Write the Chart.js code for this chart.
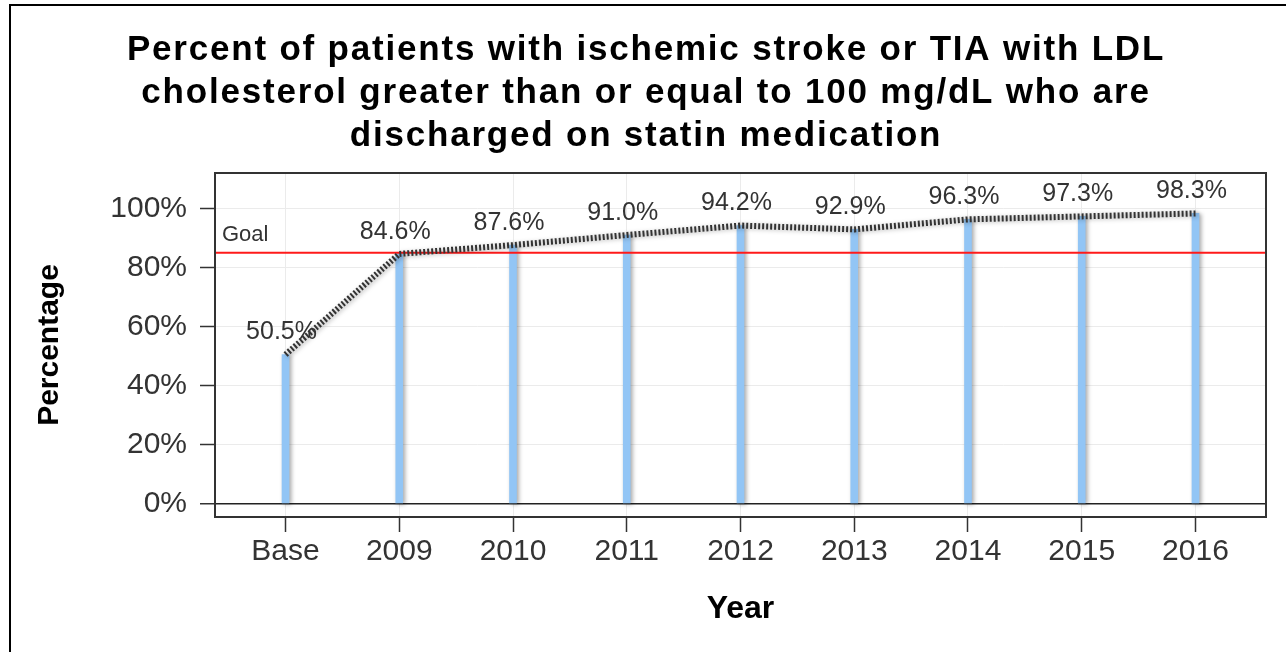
<!DOCTYPE html>
<html>
<head>
<meta charset="utf-8">
<script src="https://cdn.jsdelivr.net/npm/chart.js@4"></script>
<style>
  html, body { margin: 0; padding: 0; background: #fff; }
  #wrap { width: 1286px; height: 652px; }
</style>
</head>
<body>
<div id="wrap"><canvas id="chart" width="1286" height="652"></canvas></div>
<script>
const FONT = '"Liberation Sans", Arial, sans-serif';

const years = ["Base", "2009", "2010", "2011", "2012", "2013", "2014", "2015", "2016"];
const percents = [50.5, 84.6, 87.6, 91.0, 94.2, 92.9, 96.3, 97.3, 98.3];
const goal = 85;
const yTicks = [0, 20, 40, 60, 80, 100];
const titleLines = [
  "Percent of patients with ischemic stroke or TIA with LDL",
  "cholesterol greater than or equal to 100 mg/dL who are",
  "discharged on statin medication",
];

const X_MIN = -0.62, X_MAX = 8.62;

const points = percents.map((v, i) => ({ x: i, y: v }));

// outer frame, title, value labels, goal label, plot box
const decorPlugin = {
  id: "decor",
  beforeDraw(chart) {
    const ctx = chart.ctx;
    ctx.save();
    ctx.strokeStyle = "#000";
    ctx.lineWidth = 2;
    ctx.beginPath();
    ctx.moveTo(10, 652);
    ctx.lineTo(10, 5);
    ctx.lineTo(1286, 5);
    ctx.stroke();

    // title: drawn by hand so it can get the wider letter spacing of the original
    ctx.fillStyle = "#000";
    ctx.font = "bold 35px " + FONT;
    ctx.textAlign = "center";
    ctx.textBaseline = "alphabetic";
    if ("letterSpacing" in ctx) ctx.letterSpacing = "1.8px";
    titleLines.forEach((line, i) => ctx.fillText(line, 646, 60 + i * 43));
    ctx.restore();
  },
  afterDatasetsDraw(chart) {
    const { ctx, chartArea: a, scales: { x, y } } = chart;
    ctx.save();
    ctx.fillStyle = "#333";
    ctx.font = "25px " + FONT;
    ctx.textAlign = "center";
    ctx.textBaseline = "middle";
    percents.forEach((v, i) => {
      ctx.fillText(v.toFixed(1) + "%", x.getPixelForValue(i) - 4, y.getPixelForValue(v) - 22);
    });
    ctx.font = "22px " + FONT;
    ctx.textAlign = "left";
    ctx.textBaseline = "alphabetic";
    ctx.fillText("Goal", a.left + 7, y.getPixelForValue(goal) - 12);

    ctx.strokeStyle = "#333";
    ctx.lineWidth = 2;
    ctx.strokeRect(a.left, a.top, a.right - a.left, a.bottom - a.top);
    ctx.restore();
  },
};

const shadowPlugin = {
  id: "shadow",
  beforeDatasetDraw(chart, args) {
    if (!chart.data.datasets[args.index].shadow) return;
    const ctx = chart.ctx;
    ctx.save();
    ctx.shadowColor = "rgba(0,0,0,0.35)";
    ctx.shadowBlur = 4;
    ctx.shadowOffsetX = 2;
    ctx.shadowOffsetY = 1;
  },
  afterDatasetDraw(chart, args) {
    if (chart.data.datasets[args.index].shadow) chart.ctx.restore();
  },
};

new Chart(document.getElementById("chart"), {
  type: "line",
  data: {
    datasets: [
      {
        type: "line",
        data: points,
        borderColor: "#333",
        borderWidth: 6,
        borderDash: [2, 2],
        pointRadius: 0,
        tension: 0,
        order: 0,
        shadow: true,
      },
      {
        type: "line",
        data: [{ x: X_MIN, y: goal }, { x: X_MAX, y: goal }],
        borderColor: "#ff1a1a",
        borderWidth: 2,
        pointRadius: 0,
        order: 1,
      },
      {
        type: "bar",
        data: points,
        backgroundColor: "#92c5f5",
        barThickness: 7,
        order: 2,
        shadow: true,
      },
    ],
  },
  options: {
    responsive: false,
    devicePixelRatio: 1,
    animation: false,
    layout: { padding: { left: 24, right: 20, top: 173, bottom: 0 } },
    plugins: {
      legend: { display: false },
      tooltip: { enabled: false },
      title: { display: false },
    },
    scales: {
      x: {
        type: "linear",
        min: X_MIN,
        max: X_MAX,
        offset: false,
        afterBuildTicks: (s) => { s.ticks = years.map((_, i) => ({ value: i })); },
        afterFit: (s) => { s.height = 135; },
        ticks: {
          autoSkip: false,
          maxRotation: 0,
          padding: 2,
          color: "#333",
          font: { family: FONT, size: 30 },
          callback: (v) => years[v],
        },
        grid: { offset: false, color: "#ebebeb", tickColor: "#333", tickLength: 15, tickWidth: 1.5 },
        border: { display: false },
        title: {
          display: true,
          text: "Year",
          color: "#000",
          font: { family: FONT, size: 32, weight: "bold" },
          padding: { top: 0, bottom: 24 },
        },
      },
      y: {
        min: -4.5,
        max: 112,
        afterBuildTicks: (s) => { s.ticks = yTicks.map((v) => ({ value: v })); },
        afterFit: (s) => { s.width = 191; },
        ticks: {
          padding: 13,
          color: "#333",
          font: { family: FONT, size: 30 },
          callback: (v) => v + "%",
        },
        grid: {
          color: (c) => (c.tick && c.tick.value === 0 ? "#222" : "#ebebeb"),
          lineWidth: (c) => (c.tick && c.tick.value === 0 ? 1.5 : 1),
          tickColor: "#333",
          tickLength: 15,
          tickWidth: 1.5,
        },
        border: { display: false },
        title: {
          display: true,
          text: "Percentage",
          color: "#000",
          font: { family: FONT, size: 30, weight: "bold" },
          padding: { top: 8, bottom: 0 },
        },
      },
    },
  },
  plugins: [shadowPlugin, decorPlugin],
});
</script>
</body>
</html>
